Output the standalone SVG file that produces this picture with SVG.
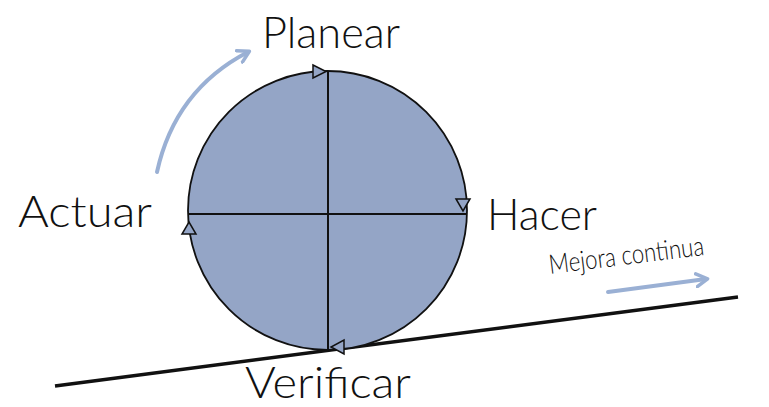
<svg xmlns="http://www.w3.org/2000/svg" width="769" height="407" viewBox="0 0 769 407">
<defs>
<style>
.lbl{font-family:Lato,"Open Sans",sans-serif;font-weight:300;fill:#111;}
.tri{fill:#94a5c6;stroke:#111;stroke-width:1.5;stroke-linejoin:miter;}
.ax{stroke:#111;stroke-width:2;fill:none;}
.blue{stroke:#9ab0d4;stroke-width:4;fill:none;stroke-linecap:round;}
</style>
<marker id="ah" viewBox="0 0 10 10" refX="7" refY="5" markerWidth="4" markerHeight="4" orient="auto" markerUnits="strokeWidth">
<path d="M1,1 L8,5 L1,9" fill="none" stroke="#9ab0d4" stroke-width="2.2" stroke-linecap="round" stroke-linejoin="round"/>
</marker>
</defs>
<rect width="769" height="407" fill="#fff"/>
<g id="ground">
<line x1="55" y1="386" x2="738" y2="297" stroke="#111" stroke-width="3.5"/>
</g>
<g id="wheel">
<circle cx="327.5" cy="210.5" r="139.5" fill="#94a5c6" stroke="#111" stroke-width="1.8"/>
<line class="ax" x1="328" y1="71" x2="328" y2="350"/>
<line class="ax" x1="188" y1="214" x2="467" y2="214"/>
</g>
<g id="connectors">
<polygon class="tri" points="313,65 326,71.5 313,78"/>
<polygon class="tri" points="456,199 470,199 463,211"/>
<polygon class="tri" points="344,340 344,354 331,347"/>
<polygon class="tri" points="182,234 196,234 189,222"/>
<path class="blue" d="M157,172 Q175,90 248,52" marker-end="url(#ah)"/>
<line class="blue" x1="608" y1="292" x2="706" y2="279" marker-end="url(#ah)"/>
</g>
<g id="planear"><text class="lbl" x="262" y="48" font-size="44" textLength="138" lengthAdjust="spacingAndGlyphs">Planear</text></g>
<g id="actuar"><text class="lbl" x="18" y="227" font-size="44" textLength="134" lengthAdjust="spacingAndGlyphs">Actuar</text></g>
<g id="hacer"><text class="lbl" x="487" y="230" font-size="44" textLength="110" lengthAdjust="spacingAndGlyphs">Hacer</text></g>
<g id="verificar"><text class="lbl" x="245" y="398" font-size="44" textLength="166" lengthAdjust="spacingAndGlyphs">Verificar</text></g>
<g id="mejora"><text class="lbl" x="550" y="274" font-size="27" transform="rotate(-7 550 274)" textLength="156" lengthAdjust="spacingAndGlyphs">Mejora continua</text></g>
</svg>
